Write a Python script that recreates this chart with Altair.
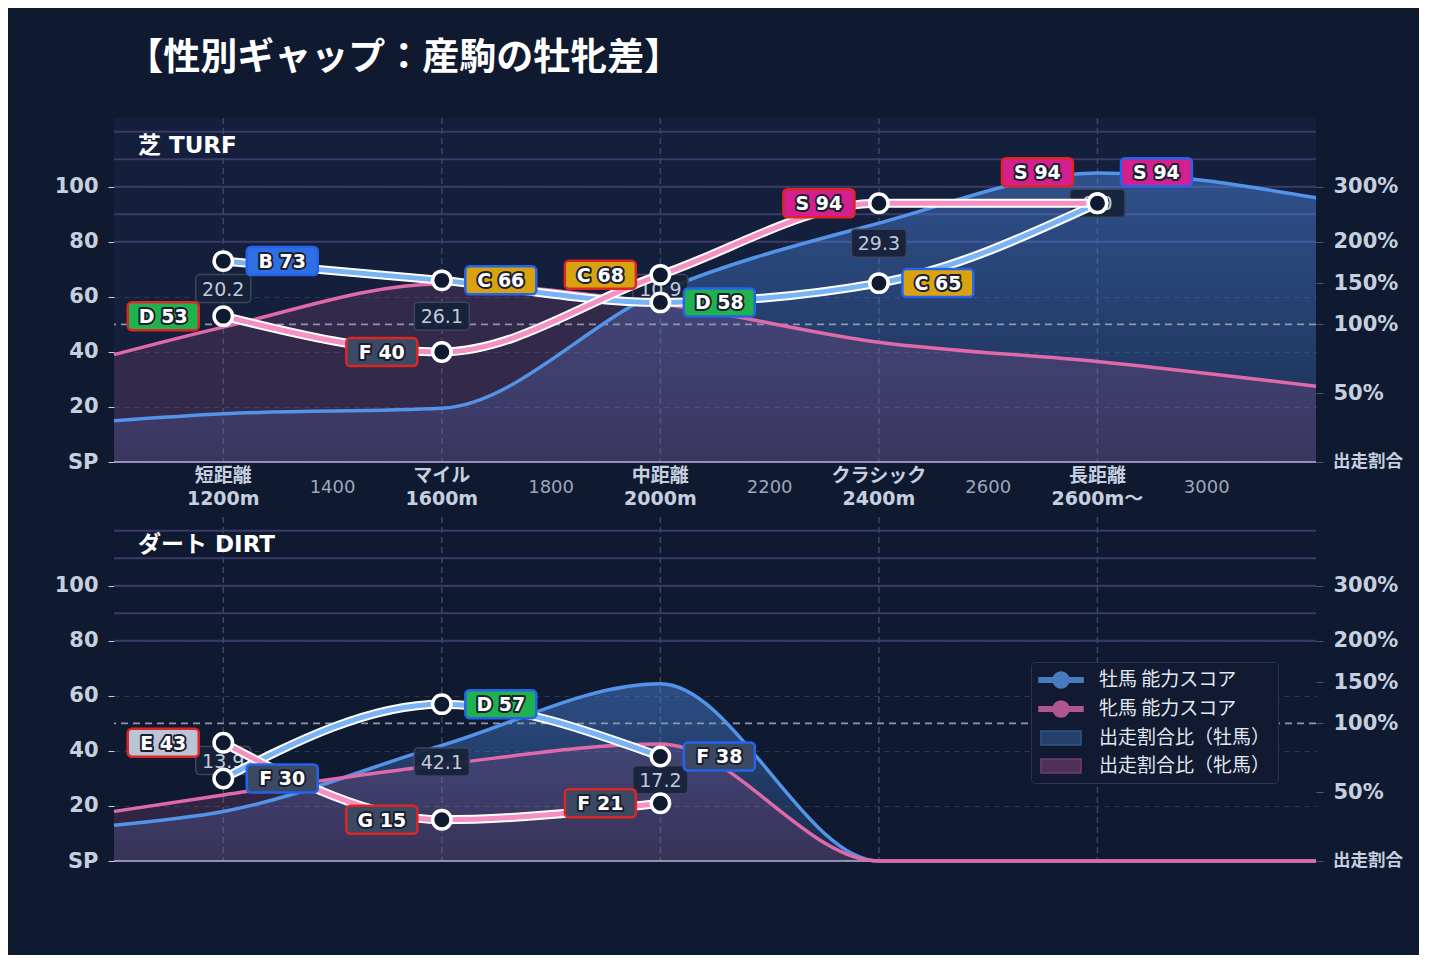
import altair as alt
import pandas as pd

FONT = "DejaVu Sans, Noto Sans CJK JP"
CJK = "Noto Sans CJK JP"
BG = "#0f1a30"
PLOT_BG = "#131f3b"
W, H = 1202, 344

TITLE = "【性別ギャップ：産駒の牡牝差】"
PANEL_NAMES = ["芝 TURF", "ダート DIRT"]

# distance categories on the x axis
CATEGORY_DIST = [1200, 1600, 2000, 2400, 2800]
CATEGORY_NAME = ["短距離", "マイル", "中距離", "クラシック", "長距離"]
CATEGORY_SUB = ["1200m", "1600m", "2000m", "2400m", "2600m～"]
NUMBER_DIST = [1400, 1800, 2200, 2600, 3000]

# runner share ratio (%), male / female
SHARE_DIST = [1000, 1200, 1600, 2000, 2400, 2800, 3200]
TURF_SHARE_M = [30, 35, 39, 140, 234, 325, 280]
TURF_SHARE_F = [78, 98, 149, 125, 87, 73, 55]
DIRT_SHARE_M = [26, 36, 84, 148, 0, 0, 0]
DIRT_SHARE_F = [36, 48, 70, 85, 0, 0, 0]

# ability scores
TURF_DIST = [1200, 1600, 2000, 2400, 2800]
TURF_SCORE_M = [73, 66, 58, 65, 94]
TURF_RANK_M = ["B", "C", "D", "C", "S"]
TURF_SCORE_F = [53, 40, 68, 94, 94]
TURF_RANK_F = ["D", "F", "C", "S", "S"]
TURF_GAP = [20.2, 26.1, 10.9, 29.3, 0.0]

DIRT_DIST = [1200, 1600, 2000]
DIRT_SCORE_M = [30, 57, 38]
DIRT_RANK_M = ["F", "D", "F"]
DIRT_SCORE_F = [43, 15, 21]
DIRT_RANK_F = ["E", "G", "F"]
DIRT_GAP = [13.9, 42.1, 17.2]

RANKS = ["S", "A", "B", "C", "D", "E", "F", "G"]
RANK_COLORS = ["#d41f8e", "#e8572a", "#2f6fe4", "#d9a30f", "#20b24e", "#bcc5d6", "#3b4a62", "#3b4a62"]

GRADE_LINES = [80, 90, 100, 110, 120]
REF_RATIO = [100]
BASE_LABEL = ["出走割合"]

# right axis: share ratio -> score units
RATIO_KNOTS = [0, 100, 150, 200, 300, 425]
UNIT_KNOTS = [0, 50, 65, 80, 100, 125]

LEGEND_ITEMS = ["牡馬 能力スコア", "牝馬 能力スコア", "出走割合比（牡馬）", "出走割合比（牝馬）"]

BLUE_LINE = "#7ab4f6"
PINK_LINE = "#f590c3"
BLUE_EDGE = "#5494e8"
PINK_EDGE = "#e06aa9"
AXIS_TEXT = "#c5cfdf"

X_SCALE = alt.Scale(domain=[1000, 3200], nice=False)
SCORE_SCALE = alt.Scale(domain=[0, 125], nice=False)
RATIO_SCALE = alt.Scale(domain=RATIO_KNOTS, range=[H - u * H / 125 for u in UNIT_KNOTS], nice=False)

CATEGORY_AXIS = alt.Axis(
    values=CATEGORY_DIST, orient="bottom", labels=False, title=None,
    tickColor="#070c18", tickSize=6, tickWidth=1.5, grid=False, domain=False,
)

LEFT_AXIS = alt.Axis(
    values=[0, 20, 40, 60, 80, 100], orient="left", title=None,
    labelExpr="datum.value == 0 ? 'SP' : datum.label",
    labelFont=FONT, labelFontSize=21, labelFontWeight="bold", labelColor=AXIS_TEXT,
    tickColor=AXIS_TEXT, tickSize=6, labelPadding=10, domain=False,
    grid=True, gridColor="#2d3854", gridDash=[5, 5], gridWidth=1,
)

RIGHT_AXIS = alt.Axis(
    values=[0, 50, 100, 150, 200, 300], orient="right", title=None,
    labelExpr="datum.value == 0 ? '' : datum.value + '%'",
    labelFont=FONT, labelFontSize=21, labelFontWeight="bold",
    labelColor=AXIS_TEXT, tickColor="#4a5570", tickSize=7, labelPadding=10, domain=False, grid=False,
)


def share_frame(m, f):
    n = len(SHARE_DIST)
    return pd.DataFrame({"dist": SHARE_DIST * 2, "sex": ["M"] * n + ["F"] * n, "ratio": m + f})


def score_frame(dists, sm, rm, sf, rf):
    n = len(dists)
    df = pd.DataFrame({
        "dist": dists * 2, "sex": ["M"] * n + ["F"] * n,
        "score": sm + sf, "rank": rm + rf,
    })
    tie = {d: a == b for d, a, b in zip(dists, sm, sf)}
    df["tie"] = df["dist"].map(tie)
    return df


def gap_frame(dists, gaps, sm, sf):
    return pd.DataFrame({"dist": dists, "gap": gaps, "m": sm, "f": sf})


def X(axis=None):
    return alt.X("dist:Q", scale=X_SCALE, axis=axis)


def panel(name, share, scores, gaps, show_labels, with_legend):
    layers = []
    cats = pd.DataFrame({"dist": CATEGORY_DIST, "name": CATEGORY_NAME, "sub": CATEGORY_SUB})

    # grade lines carry the left axis, category guides carry the x axis
    layers.append(alt.Chart(pd.DataFrame({"v": GRADE_LINES})).mark_rule(
        color="#3d3a68", strokeWidth=2
    ).encode(y=alt.Y("v:Q", scale=SCORE_SCALE, axis=LEFT_AXIS)))
    layers.append(alt.Chart(cats).mark_rule(
        color="#3a4662", strokeDash=[6, 4], strokeWidth=1.5
    ).encode(x=X(CATEGORY_AXIS)))

    # runner share areas carry the right axis
    base = alt.Chart(share)
    layers.append(base.transform_filter("datum.sex == 'M'").mark_area(
        interpolate="monotone",
        fill=alt.Gradient(
            gradient="linear",
            stops=[alt.GradientStop(color="rgba(80,140,235,0.45)", offset=0),
                   alt.GradientStop(color="rgba(80,140,235,0.14)", offset=1)],
            x1=1, x2=1, y1=0, y2=1,
        ),
    ).encode(x=X(), y=alt.Y("ratio:Q", scale=RATIO_SCALE, axis=RIGHT_AXIS)))
    layers.append(base.transform_filter("datum.sex == 'F'").mark_area(
        interpolate="monotone", fill="#c85a96", fillOpacity=0.18
    ).encode(x=X(), y=alt.Y("ratio:Q", scale=RATIO_SCALE, axis=None)))
    layers.append(alt.Chart(pd.DataFrame({"r": REF_RATIO})).mark_rule(
        color="#8d96ab", strokeDash=[7, 5], strokeWidth=1.6
    ).encode(y=alt.Y("r:Q", scale=RATIO_SCALE, axis=None)))
    layers.append(alt.Chart(pd.DataFrame({"v": [0]})).mark_rule(
        color="#b8b0da", strokeWidth=1.5
    ).encode(y=alt.Y("v:Q", scale=SCORE_SCALE, axis=None)))
    for sex, col in (("M", BLUE_EDGE), ("F", PINK_EDGE)):
        layers.append(base.transform_filter(f"datum.sex == '{sex}'").mark_line(
            interpolate="monotone", color=col, strokeWidth=3.5
        ).encode(x=X(), y=alt.Y("ratio:Q", scale=RATIO_SCALE, axis=None)))

    # distance labels under the plot and the base label of the right axis
    if show_labels:
        cat_text = alt.Chart(cats).mark_text(
            font=FONT, fontSize=19, fontWeight="bold", color=AXIS_TEXT, baseline="middle"
        )
        layers.append(cat_text.encode(x=X(), y=alt.value(H + 14), text="name:N"))
        layers.append(cat_text.encode(x=X(), y=alt.value(H + 37), text="sub:N"))
        layers.append(alt.Chart(pd.DataFrame({"dist": NUMBER_DIST})).mark_text(
            font=FONT, fontSize=18, color="#9ba7bc", baseline="middle"
        ).encode(x=X(), y=alt.value(H + 26), text=alt.Text("dist:Q", format="d")))
    layers.append(alt.Chart(pd.DataFrame({"r": [0], "t": BASE_LABEL})).mark_text(
        font=CJK, fontSize=17.5, fontWeight="bold", color=AXIS_TEXT, align="left", baseline="middle"
    ).encode(x=alt.value(W + 17), y=alt.Y("r:Q", scale=RATIO_SCALE, axis=None), text="t:N"))

    # gap boxes between the two scores
    Ymid = alt.Y("mid:Q", scale=SCORE_SCALE, axis=None)
    gbase = alt.Chart(gaps).transform_calculate(mid="(datum.m + datum.f) / 2")
    layers.append(gbase.mark_rect(
        width=55, height=28, cornerRadius=4, fill="#17223a", fillOpacity=0.92,
        stroke="#3a465c", strokeWidth=1.5
    ).encode(x=X(), y=Ymid))
    layers.append(gbase.mark_text(
        font=FONT, fontSize=19, color="#c0cadb", baseline="middle", dy=1
    ).encode(x=X(), y=Ymid, text=alt.Text("gap:Q", format=".1f")))

    # ability score lines and points
    Y = alt.Y("score:Q", scale=SCORE_SCALE, axis=None)
    sbase = alt.Chart(scores)
    for sex, col in (("M", BLUE_LINE), ("F", PINK_LINE)):
        sb = sbase.transform_filter(f"datum.sex == '{sex}'")
        layers.append(sb.mark_line(interpolate="monotone", color="white", strokeWidth=9).encode(x=X(), y=Y))
        layers.append(sb.mark_line(interpolate="monotone", color=col, strokeWidth=5).encode(x=X(), y=Y))
    layers.append(sbase.mark_point(
        filled=True, fill="#0f1a30", stroke="white", strokeWidth=3.5, size=340, opacity=1
    ).encode(x=X(), y=Y))

    # rank labels
    lab = sbase.transform_calculate(lab="datum.rank + ' ' + datum.score")
    for sex, dx, border in (("M", 59, "#2563eb"), ("F", -60, "#dc2626")):
        for tie, dy in ((False, 0), (True, -31)):
            lb = lab.transform_filter(f"datum.sex == '{sex}' && datum.tie == {str(tie).lower()}")
            layers.append(lb.mark_rect(
                width=71, height=28, cornerRadius=4, stroke=border, strokeWidth=2.5,
                xOffset=dx, yOffset=dy
            ).encode(x=X(), y=Y, fill=alt.Fill("rank:N", scale=alt.Scale(domain=RANKS, range=RANK_COLORS), legend=None)))
            layers.append(lb.mark_text(
                font=FONT, fontSize=19, fontWeight="bold", color="#1a2030", stroke="#1a2030",
                strokeWidth=4, strokeJoin="round", dx=dx, dy=dy + 1, baseline="middle"
            ).encode(x=X(), y=Y, text="lab:N"))
            layers.append(lb.mark_text(
                font=FONT, fontSize=19, fontWeight="bold", color="white", dx=dx, dy=dy + 1, baseline="middle"
            ).encode(x=X(), y=Y, text="lab:N"))

    layers.append(alt.Chart(pd.DataFrame({"t": [name]})).mark_text(
        font=FONT, fontSize=23, fontWeight="bold", color="white", align="left", baseline="middle"
    ).encode(x=alt.value(24), y=alt.value(28), text="t:N"))

    if with_legend:
        line_sym = ("M-2.2,-0.22H-0.8V0.22H-2.2Z M0.8,-0.22H2.2V0.22H0.8Z "
                    "M0.8,0A0.8,0.8,0,1,1,-0.8,0A0.8,0.8,0,1,1,0.8,0Z")
        rect_sym = "M-2,-0.7H2V0.7H-2Z"
        leg = alt.Legend(
            title=None, orient="none", legendX=917, legendY=145,
            labelFont=CJK, labelFontSize=19, labelColor="#e2e8f0", labelOffset=27, labelLimit=400,
            symbolSize=400, symbolOffset=12, symbolStrokeWidth=1.5, rowPadding=7, padding=7,
            fillColor="#111a31", strokeColor="#2a3550", cornerRadius=4,
        )
        layers.append(alt.Chart(pd.DataFrame({"item": LEGEND_ITEMS})).transform_filter("false").mark_point(
            filled=True
        ).encode(
            color=alt.Color("item:N", scale=alt.Scale(domain=LEGEND_ITEMS, range=["#60a5fa", "#f472b6", "#2e4f80", "#693a6b"]), legend=leg),
            shape=alt.Shape("item:N", scale=alt.Scale(domain=LEGEND_ITEMS, range=[line_sym, line_sym, rect_sym, rect_sym]), legend=leg),
            stroke=alt.Stroke("item:N", scale=alt.Scale(domain=LEGEND_ITEMS, range=["#60a5fa", "#f472b6", "#3d6fb5", "#9b4c8c"]), legend=leg),
        ))

    return alt.layer(*layers).resolve_scale(y="independent").properties(width=W, height=H)


turf = panel(
    PANEL_NAMES[0],
    share_frame(TURF_SHARE_M, TURF_SHARE_F),
    score_frame(TURF_DIST, TURF_SCORE_M, TURF_RANK_M, TURF_SCORE_F, TURF_RANK_F),
    gap_frame(TURF_DIST, TURF_GAP, TURF_SCORE_M, TURF_SCORE_F),
    True, False,
)
dirt = panel(
    PANEL_NAMES[1],
    share_frame(DIRT_SHARE_M, DIRT_SHARE_F),
    score_frame(DIRT_DIST, DIRT_SCORE_M, DIRT_RANK_M, DIRT_SCORE_F, DIRT_RANK_F),
    gap_frame(DIRT_DIST, DIRT_GAP, DIRT_SCORE_M, DIRT_SCORE_F),
    False, True,
)

chart = (
    alt.vconcat(turf, dirt, spacing=7)
    .resolve_scale(color="independent", shape="independent", stroke="independent")
    .properties(
        title=alt.TitleParams(
            TITLE, anchor="start", font=CJK, fontSize=37, fontWeight="bold", color="white", offset=39, dx=72
        ),
        padding={"left": 46, "top": 32, "right": 16, "bottom": 84},
    )
    .configure(background=BG)
    .configure_view(fill=PLOT_BG, stroke=None)
)

chart.save("out.html", embed_options={"renderer": "svg", "actions": False})
